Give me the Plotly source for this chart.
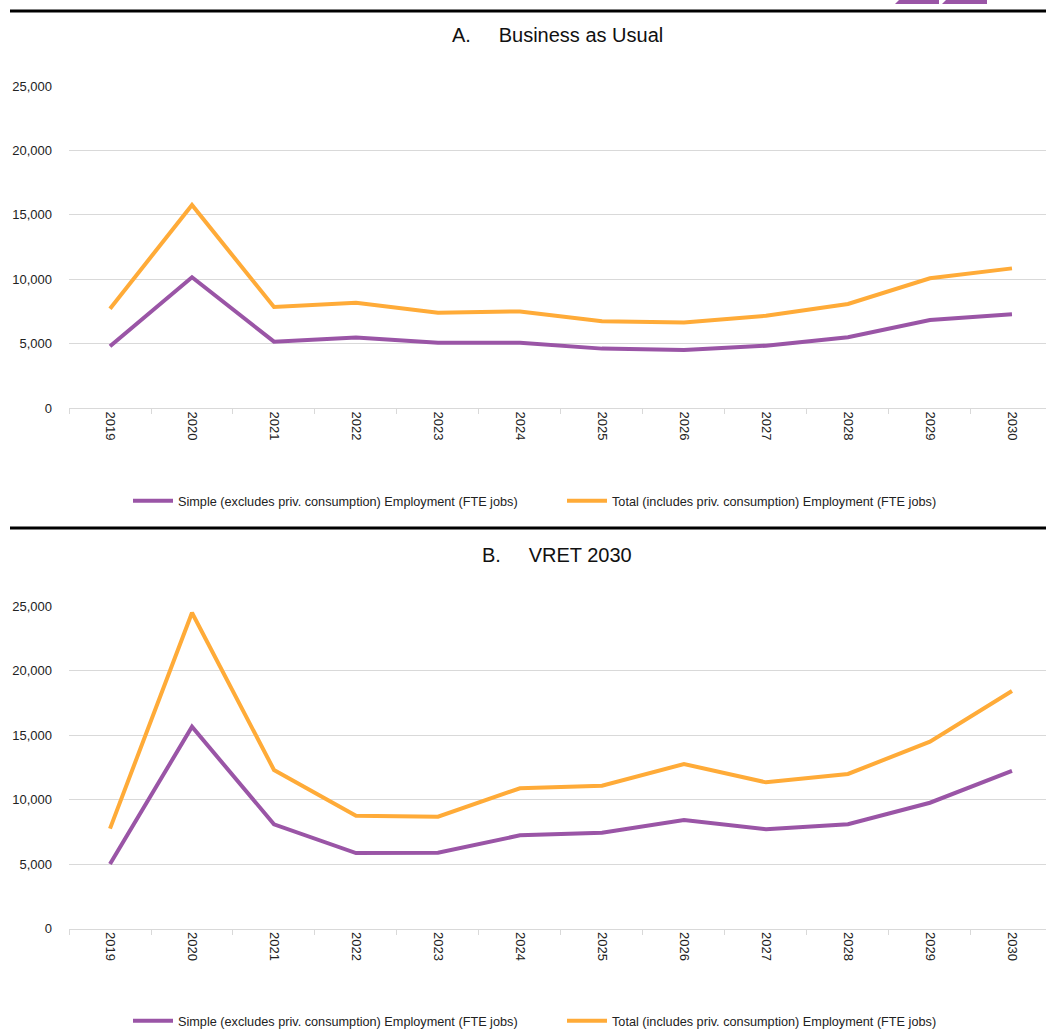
import plotly.graph_objects as go

# Employment impact, FTE jobs by year
years = [str(y) for y in range(2019, 2031)]

bau_simple = [4800, 10150, 5150, 5480, 5070, 5070, 4610, 4500, 4840, 5490, 6830, 7270]
bau_total = [7710, 15760, 7840, 8170, 7400, 7500, 6730, 6630, 7160, 8080, 10070, 10840]

vret_simple = [5000, 15640, 8080, 5850, 5880, 7220, 7430, 8410, 7690, 8080, 9750, 12210]
vret_total = [7740, 24480, 12290, 8740, 8670, 10870, 11070, 12750, 11330, 11980, 14480, 18410]

series_names = [
    "Simple (excludes priv. consumption) Employment (FTE jobs)",
    "Total (includes priv. consumption) Employment (FTE jobs)",
]
panel_titles = ["A.\u00a0\u00a0\u00a0\u00a0\u00a0Business as Usual", "B.\u00a0\u00a0\u00a0\u00a0\u00a0VRET 2030"]
y_ticks = [0, 5000, 10000, 15000, 20000, 25000]

PURPLE = "#9A55A6"
ORANGE = "#FFAB38"
GRID = "#D9D9D9"
FONT = "Liberation Sans Narrow, Arial Narrow, Liberation Sans, Arial, sans-serif"

W, H = 1046, 1034


def py(pix):
    """Convert a pixel row (from top) into paper y."""
    return 1 - pix / H


def px(pix):
    return pix / W


fig = go.Figure()

panels = [
    (bau_simple, bau_total, "x", "y", "legend"),
    (vret_simple, vret_total, "x2", "y2", "legend2"),
]
for simple, total, xa, ya, lg in panels:
    for vals, name, color in [(simple, series_names[0], PURPLE), (total, series_names[1], ORANGE)]:
        fig.add_trace(go.Scatter(
            x=years, y=vals, name=name, mode="lines",
            line=dict(color=color, width=4),
            xaxis=xa, yaxis=ya, legend=lg,
        ))

x_common = dict(
    type="category",
    range=[-0.5, 11.415],
    domain=[px(69), 1],
    showgrid=False,
    showline=True, linecolor=GRID, linewidth=1,
    ticks="outside", tickson="boundaries", ticklen=5, tickcolor=GRID,
    tickangle=90,
    tickfont=dict(family=FONT, size=13, color="#222222"),
    zeroline=False,
)
y_common = dict(
    range=[0, 25000],
    tickvals=y_ticks,
    tickformat=",d",
    showgrid=True, gridcolor=GRID, gridwidth=1,
    zeroline=False, showline=False,
    ticks="", ticklabelstandoff=16,
    tickfont=dict(family=FONT, size=13, color="#222222"),
)

legend_common = dict(
    orientation="h", xanchor="left", yanchor="middle",
    font=dict(family=FONT, size=12.7, color="#222222"),
    itemwidth=40,
    entrywidth=379, entrywidthmode="pixels", bgcolor="rgba(0,0,0,0)",
)

fig.update_layout(
    width=W, height=H,
    margin=dict(l=0, r=0, t=0, b=0, autoexpand=False),
    paper_bgcolor="white", plot_bgcolor="white",
    font=dict(family=FONT, color="#222222"),
    showlegend=True,
    xaxis=dict(**x_common, anchor="y"),
    yaxis=dict(**y_common, domain=[py(408), py(86)], anchor="x"),
    xaxis2=dict(**x_common, anchor="y2"),
    yaxis2=dict(**y_common, domain=[py(928.5), py(606)], anchor="x2"),
    legend=dict(**legend_common, x=px(128), y=py(501)),
    legend2=dict(**legend_common, x=px(128), y=py(1021)),
)

# panel headings
for title, ypix in zip(panel_titles, [35, 555]):
    fig.add_annotation(
        text=title, x=px(557), y=py(ypix), xref="paper", yref="paper",
        xanchor="center", yanchor="middle", showarrow=False,
        font=dict(family=FONT, size=20, color="#111111"),
    )

# black rules at the top and between panels
for ypix in [11, 528]:
    fig.add_shape(
        type="line", xref="paper", yref="paper",
        x0=px(10), x1=1, y0=py(ypix), y1=py(ypix),
        line=dict(color="black", width=3),
    )

# corner emblem fragment
for x_l, x_r in [(895, 939), (942, 987)]:
    fig.add_shape(
        type="path", xref="paper", yref="paper",
        path=(f"M {px(x_l + 4)} {py(0)} L {px(x_r)} {py(0)} "
              f"L {px(x_r)} {py(4)} L {px(x_l)} {py(4)} Z"),
        fillcolor=PURPLE, line=dict(width=0),
    )

fig.write_html("out.html")
